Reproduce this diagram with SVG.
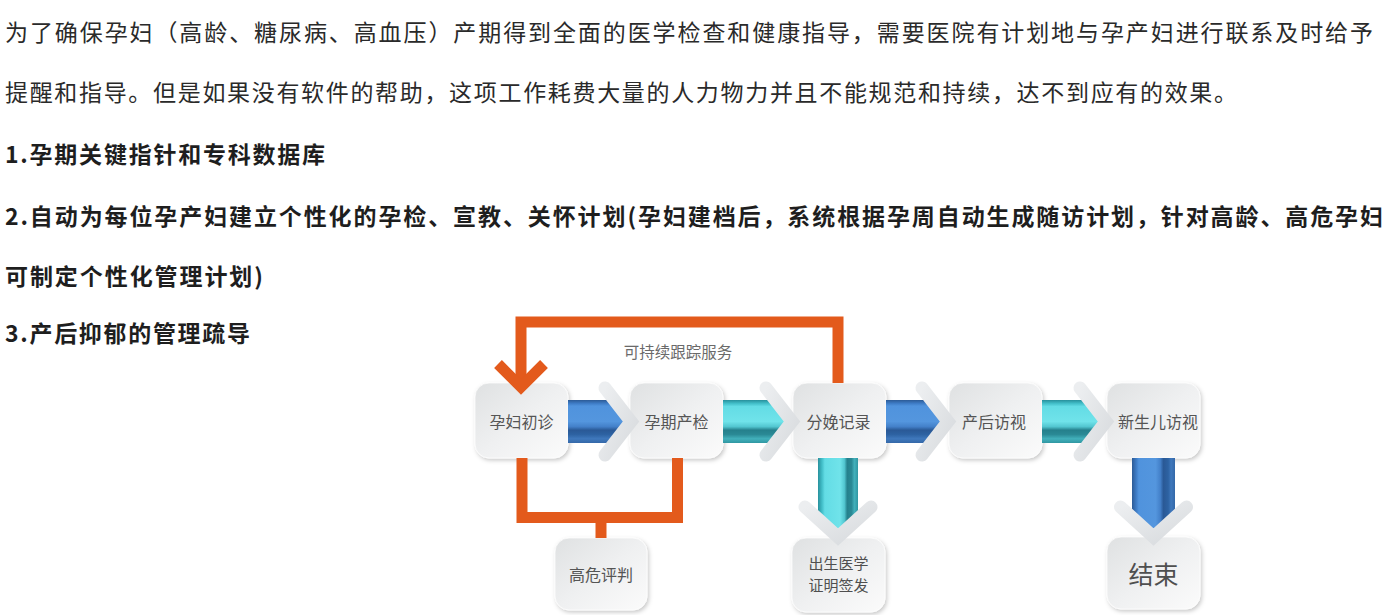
<svg xmlns="http://www.w3.org/2000/svg" width="1400" height="615" viewBox="0 0 1400 615">
<defs>
<style>
.t{font-family:"Noto Sans CJK SC","Noto Sans",sans-serif;font-size:23px;fill:#2a2a2a}
.b{font-weight:bold;fill:#1e1e1e}
.nl{font-family:"Noto Sans CJK SC","Noto Sans",sans-serif;font-size:16px;fill:#555555;text-anchor:middle}
.box{fill:url(#boxg);stroke:#ffffff;stroke-opacity:0.7;stroke-width:1;filter:url(#sh)}
.or{fill:none;stroke:#e35a1c;stroke-width:11;stroke-linejoin:miter}
.chev{fill:none;stroke:url(#chg);stroke-width:13;stroke-linecap:round;stroke-linejoin:miter}
.bh{fill:url(#blueH)}
.ch{fill:url(#cyanH)}
.bv{fill:url(#blueV)}
.cv{fill:url(#cyanV)}
</style>
<linearGradient id="boxg" x1="0" y1="0" x2="1" y2="1">
<stop offset="0" stop-color="#dfe1e2"/>
<stop offset="0.5" stop-color="#eff0f1"/>
<stop offset="1" stop-color="#fbfbfb"/>
</linearGradient>
<linearGradient id="chg" x1="0" y1="0" x2="1" y2="1">
<stop offset="0" stop-color="#eceef0"/>
<stop offset="1" stop-color="#d9dcdf"/>
</linearGradient>
<linearGradient id="blueH" x1="0" y1="0" x2="0" y2="1">
<stop offset="0" stop-color="#2c5b96"/>
<stop offset="0.08" stop-color="#3e7cc6"/>
<stop offset="0.14" stop-color="#5093dd"/>
<stop offset="0.5" stop-color="#5496de"/>
<stop offset="0.62" stop-color="#4380c9"/>
<stop offset="0.7" stop-color="#2a5996"/>
<stop offset="0.8" stop-color="#2d62a2"/>
<stop offset="0.9" stop-color="#3f78bc"/>
<stop offset="1" stop-color="#3468a8"/>
</linearGradient>
<linearGradient id="cyanH" x1="0" y1="0" x2="0" y2="1">
<stop offset="0" stop-color="#28909c"/>
<stop offset="0.08" stop-color="#42bec9"/>
<stop offset="0.15" stop-color="#63dce5"/>
<stop offset="0.5" stop-color="#70e3ea"/>
<stop offset="0.62" stop-color="#52c6d0"/>
<stop offset="0.7" stop-color="#25808c"/>
<stop offset="0.8" stop-color="#2a8995"/>
<stop offset="0.9" stop-color="#42b0bb"/>
<stop offset="1" stop-color="#3097a2"/>
</linearGradient>
<linearGradient id="blueV" x1="0" y1="0" x2="1" y2="0">
<stop offset="0" stop-color="#2c5b96"/>
<stop offset="0.1" stop-color="#3e7cc6"/>
<stop offset="0.16" stop-color="#5093dd"/>
<stop offset="0.55" stop-color="#5496de"/>
<stop offset="0.66" stop-color="#4380c9"/>
<stop offset="0.73" stop-color="#2a5996"/>
<stop offset="0.84" stop-color="#2d62a2"/>
<stop offset="0.91" stop-color="#3f78bc"/>
<stop offset="1" stop-color="#3468a8"/>
</linearGradient>
<linearGradient id="cyanV" x1="0" y1="0" x2="1" y2="0">
<stop offset="0" stop-color="#28909c"/>
<stop offset="0.1" stop-color="#42bec9"/>
<stop offset="0.17" stop-color="#63dce5"/>
<stop offset="0.55" stop-color="#70e3ea"/>
<stop offset="0.66" stop-color="#52c6d0"/>
<stop offset="0.73" stop-color="#25808c"/>
<stop offset="0.84" stop-color="#2a8995"/>
<stop offset="0.91" stop-color="#42b0bb"/>
<stop offset="1" stop-color="#3097a2"/>
</linearGradient>
<filter id="sh" x="-20%" y="-20%" width="140%" height="150%">
<feDropShadow dx="1.5" dy="2" stdDeviation="2" flood-color="#000000" flood-opacity="0.22"/>
</filter>
</defs>
<rect x="0" y="0" width="1400" height="615" fill="#ffffff"/>

<g id="intro-text">
<text class="t" x="5" y="41" textLength="1368" lengthAdjust="spacing">为了确保孕妇（高龄、糖尿病、高血压）产期得到全面的医学检查和健康指导，需要医院有计划地与孕产妇进行联系及时给予</text>
<text class="t" x="5" y="101" textLength="1232" lengthAdjust="spacing">提醒和指导。但是如果没有软件的帮助，这项工作耗费大量的人力物力并且不能规范和持续，达不到应有的效果。</text>
<text class="t b" x="5" y="163" textLength="320" lengthAdjust="spacing">1.孕期关键指针和专科数据库</text>
<text class="t b" x="5" y="225" textLength="1378" lengthAdjust="spacing">2.自动为每位孕产妇建立个性化的孕检、宣教、关怀计划(孕妇建档后，系统根据孕周自动生成随访计划，针对高龄、高危孕妇</text>
<text class="t b" x="5" y="285" textLength="258" lengthAdjust="spacing">可制定个性化管理计划)</text>
<text class="t b" x="5" y="342" textLength="245" lengthAdjust="spacing">3.产后抑郁的管理疏导</text>
</g>

<g id="node-chuzhen"><rect class="box" x="475" y="383" width="93" height="75" rx="14"/><text class="nl" x="521.5" y="428">孕妇初诊</text></g>
<g id="node-chanjian"><rect class="box" x="630" y="383" width="93" height="75" rx="14"/><text class="nl" x="676.5" y="428">孕期产检</text></g>
<g id="node-fenmian"><rect class="box" x="793" y="383" width="93" height="75" rx="14"/><text class="nl" x="838.5" y="428">分娩记录</text></g>
<g id="node-chanhou"><rect class="box" x="949" y="383" width="93" height="75" rx="14"/><text class="nl" x="994" y="428">产后访视</text></g>
<g id="node-xinshenger"><rect class="box" x="1107" y="383" width="93" height="75" rx="14"/><text class="nl" x="1158" y="428">新生儿访视</text></g>
<g id="node-gaowei"><rect class="box" x="555" y="538" width="92" height="72" rx="14"/><text class="nl" x="601" y="581">高危评判</text></g>
<g id="node-chusheng"><rect class="box" x="792" y="538" width="93" height="74" rx="14"/><text class="nl" style="font-size:15px;fill:#4f4f4f" x="838.5" y="569">出生医学</text><text class="nl" style="font-size:15px;fill:#4f4f4f" x="838.5" y="591">证明签发</text></g>
<g id="node-jieshu"><rect class="box" x="1107" y="537" width="93" height="72" rx="14"/><text class="nl" style="font-size:25px;fill:#4f4f4f" x="1153.5" y="584">结束</text></g>

<g id="connectors">
<polygon class="bh" points="568,400 609,400 626,421.5 609,443 568,443"/>
<polygon class="ch" points="723,400 770,400 787,421.5 770,443 723,443"/>
<polygon class="bh" points="886,400 926,400 943,421.5 926,443 886,443"/>
<polygon class="ch" points="1042,400 1084,400 1101,421.5 1084,443 1042,443"/>
<polygon class="cv" points="818,458 858,458 858,511 838,531 818,511"/>
<polygon class="bv" points="1132,458 1175,458 1175,511 1153.5,531 1132,511"/>
<polyline class="chev" points="605,388 631,421.5 605,455"/>
<polyline class="chev" points="766,388 792,421.5 766,455"/>
<polyline class="chev" points="922,388 948,421.5 922,455"/>
<polyline class="chev" points="1080,388 1106,421.5 1080,455"/>
<polyline class="chev" points="805,507 838,537 871,507"/>
<polyline class="chev" points="1120.5,507 1153.5,537 1186.5,507"/>
<path class="or" d="M838,383 V322 H521 V382"/>
<polyline class="or" points="498,364 521,387 544,364"/>
<path class="or" d="M522,458 V517.5 H677.5 V458"/>
<path class="or" d="M601,517 V538"/>
<text x="678" y="358" style="font-family:'Noto Sans CJK SC','Noto Sans',sans-serif;font-size:15.5px;fill:#6a6a6a" text-anchor="middle">可持续跟踪服务</text>
</g>
</svg>
